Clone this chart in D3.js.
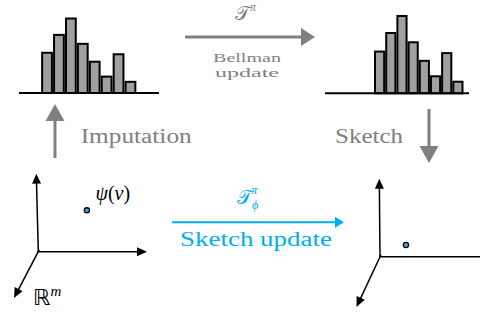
<!DOCTYPE html>
<html>
<head>
<meta charset="utf-8">
<script src="https://cdn.jsdelivr.net/npm/d3@7"></script>
<style>
  html, body { margin: 0; padding: 0; background: #fff; }
  svg { display: block; }
</style>
</head>
<body>
<div id="chart"></div>
<script>
// histogram bins (same return distribution before and after the Bellman step)
var bins = ["b1", "b2", "b3", "b4", "b5", "b6", "b7", "b8"];
var counts = [5.4, 7.8, 10, 6.6, 4.2, 2.2, 5.2, 1.5];

// points in the sketch space (unit coords along the two drawn axes)
var psiPoint = [0.45, 0.53];
var updatedPoint = [0.24, 0.15];

var width = 480, height = 314;
var gray = "#808080", blue = "#00aeef";
var serif = "Liberation Serif, DejaVu Serif, serif";

var svg = d3.select("#chart").append("svg")
    .attr("width", width)
    .attr("height", height);

function arrow(g, x1, y1, x2, y2, color, sw, len, half) {
    var a = Math.atan2(y2 - y1, x2 - x1),
        bx = x2 - len * Math.cos(a),
        by = y2 - len * Math.sin(a);
    g.append("line")
        .attr("x1", x1).attr("y1", y1)
        .attr("x2", bx + 1 * Math.cos(a)).attr("y2", by + 1 * Math.sin(a))
        .attr("stroke", color).attr("stroke-width", sw);
    var p = d3.path();
    p.moveTo(x2, y2);
    p.lineTo(bx + half * Math.sin(a), by - half * Math.cos(a));
    p.lineTo(bx - half * Math.sin(a), by + half * Math.cos(a));
    p.closePath();
    g.append("path").attr("d", p.toString()).attr("fill", color);
}

function histogram(x0, x1, base, top, lineFrom, lineTo) {
    var x = d3.scaleBand().domain(bins).range([x0, x1]).padding(0.18);
    var y = d3.scaleLinear().domain([0, d3.max(counts)]).range([base, top]);
    var g = svg.append("g");
    g.selectAll("rect")
        .data(counts)
        .enter().append("rect")
        .attr("x", function (d, i) { return x(bins[i]); })
        .attr("y", function (d) { return y(d); })
        .attr("width", x.bandwidth())
        .attr("height", function (d) { return base - y(d); })
        .attr("fill", "#a0a0a0")
        .attr("stroke", "#000")
        .attr("stroke-width", 2);
    g.append("line")
        .attr("x1", lineFrom).attr("x2", lineTo)
        .attr("y1", base).attr("y2", base)
        .attr("stroke", "#000").attr("stroke-width", 2);
}

histogram(40, 137.5, 93, 18.5, 19, 159);
histogram(373, 464.5, 93.3, 16, 325, 469);

function axes(ox, oy, topX, rightX, diag, pt, arrowRight) {
    var x = d3.scaleLinear().domain([0, 1]).range([ox, ox + 108]);
    var y = d3.scaleLinear().domain([0, 1]).range([oy, oy - 78]);
    var g = svg.append("g");
    arrow(g, ox, oy, topX, y(1), "#000", 1.5, 10, 4.5);
    if (arrowRight) {
        arrow(g, ox - 1, oy, rightX, oy, "#000", 1.5, 10, 4.5);
    } else {
        g.append("line").attr("x1", ox - 1).attr("x2", rightX)
            .attr("y1", oy).attr("y2", oy)
            .attr("stroke", "#000").attr("stroke-width", 1.5);
    }
    arrow(g, ox + 1, oy - 2, diag[0], diag[1], "#000", 1.5, 10, 4.5);
    g.append("circle")
        .attr("cx", x(pt[0])).attr("cy", y(pt[1]))
        .attr("r", 2.6)
        .attr("fill", "#3fa9f5")
        .attr("stroke", "#000").attr("stroke-width", 1.3);
}

axes(38.3, 251.7, 36.3, 147, [14, 298], psiPoint, true);
axes(380, 256.7, 379.3, 480, [356.5, 307], updatedPoint, false);

// arrows between the four panels
var ga = svg.append("g");
arrow(ga, 185, 37, 315, 37, gray, 3, 14, 9);
arrow(ga, 55, 158, 55, 104, gray, 3, 17, 9.5);
arrow(ga, 429, 109, 429, 163, gray, 3, 17, 9.5);
arrow(ga, 172, 222.3, 344, 222.3, blue, 2, 9, 5.5);

// labels
function label(x, y, size, color, str, len, anchor) {
    var t = svg.append("text").attr("x", x).attr("y", y)
        .attr("fill", color).attr("font-size", size)
        .attr("font-family", serif)
        .attr("text-anchor", anchor || "start")
        .text(str);
    if (len) t.attr("textLength", len).attr("lengthAdjust", "spacingAndGlyphs");
    return t;
}

var tp = svg.append("text").attr("x", 235).attr("y", 19.5)
    .attr("fill", gray).attr("font-size", 20).attr("font-family", serif);
tp.append("tspan").text("\ud835\udcaf");
tp.append("tspan").attr("font-size", 12).attr("dy", -9).attr("font-style", "italic").text("π");

label(247, 62.3, 13, gray, "Bellman", 68, "middle");
label(247, 76.5, 13, gray, "update", 64, "middle");

label(80.7, 142.7, 20, gray, "Imputation", 111);
label(335, 142.7, 20, gray, "Sketch", 68);

var tb = svg.append("text").attr("x", 237).attr("y", 204)
    .attr("fill", blue).attr("font-size", 20).attr("font-family", serif);
tb.append("tspan").text("\ud835\udcaf");
tb.append("tspan").attr("font-size", 12).attr("dy", 5).attr("font-style", "italic").text("ϕ");
tb.append("tspan").attr("font-size", 12).attr("dx", -7).attr("dy", -15).attr("font-style", "italic").text("π");

label(180, 246, 20, blue, "Sketch update", 152);

var ps = svg.append("text").attr("x", 95.5).attr("y", 200)
    .attr("fill", "#000").attr("font-size", 20).attr("font-family", serif);
ps.append("tspan").attr("font-style", "italic").text("ψ");
ps.append("tspan").text("(");
ps.append("tspan").attr("font-style", "italic").text("ν");
ps.append("tspan").text(")");

var rm = svg.append("text").attr("x", 33).attr("y", 305)
    .attr("fill", "#000").attr("font-size", 22).attr("font-family", serif);
rm.append("tspan").attr("font-family", "DejaVu Sans").text("ℝ");
rm.append("tspan").attr("font-size", 15).attr("dy", -9).attr("font-style", "italic").text("m");
</script>
</body>
</html>
